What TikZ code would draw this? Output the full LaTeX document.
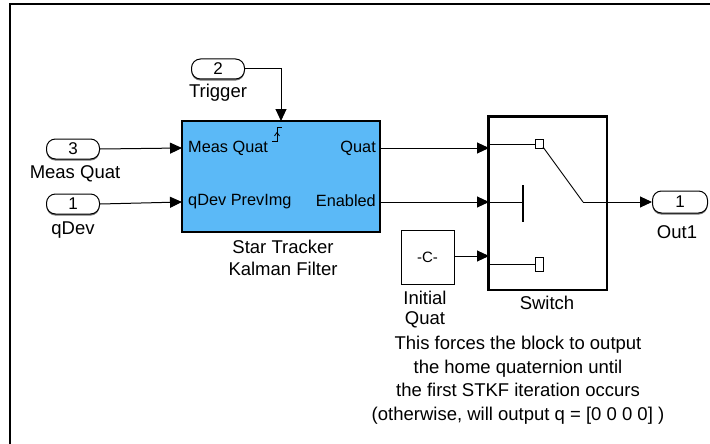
\documentclass[tikz,border=0pt]{standalone}
\usepackage{fontspec}
\setmainfont{Liberation Sans}
\usetikzlibrary{arrows.meta,shadows}
\definecolor{stkfblue}{HTML}{5BB9F7}
\tikzset{wiretip/.tip={Triangle[length=12pt,width=11pt]}}
\begin{document}
\begin{tikzpicture}[x=1pt,y=-1pt,
  lbl/.style={font=\fontsize{18.5}{22}\selectfont, inner sep=0pt},
  portlbl/.style={font=\fontsize{16.3}{19}\selectfont, inner sep=0pt},
  pill/.style={draw, fill=white, line width=1pt, rounded corners=9pt, minimum width=53pt, minimum height=20pt, inner sep=0pt, font=\fontsize{17}{20}\selectfont,
    drop shadow={shadow xshift=0pt, shadow yshift=-1.6pt, fill=black!55, opacity=1}},
  blk/.style={draw, line width=1.3pt, inner sep=0pt},
  wire/.style={line width=1pt, -wiretip},
  plainline/.style={line width=1pt}]
\useasboundingbox (0,0) rectangle (710,444);
% frame (top and left edges only)
\draw[line width=2pt] (10,444) -- (10,4.5) -- (710,4.5);

% inports
\node[pill] (inTrig) at (218,69) {2};
\node[lbl] (lTrig) at (218,93) {Trigger};
\node[pill] (inMeas) at (73,149) {3};
\node[lbl] (lMeas) at (75,174) {Meas Quat};
\node[pill] (inQdev) at (73,204) {1};
\node[lbl] (lQdev) at (73,230) {qDev};

% Star tracker block
\node[blk, fill=stkfblue, minimum width=198pt, minimum height=111pt] (stkf) at (281,176.5) {};
\node[portlbl, anchor=west] (pMeas) at (188,148) {Meas Quat};
\node[portlbl, anchor=west] (pQdev) at (188,202) {qDev PrevImg};
\node[portlbl, anchor=east] (pQuat) at (376,148) {Quat};
\node[portlbl, anchor=east] (pEn) at (376,201) {Enabled};
\node[lbl] (lStkf1) at (283,247) {Star Tracker};
\node[lbl] (lStkf2) at (283,269) {Kalman Filter};
% trigger symbol
\draw[line width=1pt] (272,141.5) -- (277,141.5) -- (277,127) -- (282,127);
\draw[line width=0.8pt] (274.5,136) -- (277,132.5) -- (279.5,136);

% Constant block
\node[blk, line width=1pt, minimum width=53pt, minimum height=54pt, font=\fontsize{15}{18}\selectfont] (const) at (427.5,257) {-C-};
\node[lbl] (lInit1) at (425,298) {Initial};
\node[lbl] (lInit2) at (425,320) {Quat};

% Switch block
\node[blk, line width=1.6pt, minimum width=118pt, minimum height=173pt] (sw) at (548,203.5) {};
\draw[line width=3pt] (sw.south west) -- (sw.north west) -- (sw.north east);
\node[lbl] (lSw) at (547,303) {Switch};
% switch internals
\coordinate (swIn1) at (489,144);
\coordinate (swIn2) at (489,202);
\coordinate (swIn3) at (489,264);
\coordinate (swPivot) at (583,202);
\draw[plainline] (swIn1) -- (535,144);
\draw[line width=0.9pt] (535,139.5) rectangle (543,148.5);
\draw[line width=0.9pt] (543,147) -- (swPivot);
\draw[plainline] (swIn2) -- (523,202);
\draw[line width=1.2pt] (523,185) -- (523,222);
\draw[plainline] (swIn3) -- (535,264);
\draw[line width=0.9pt] (535,257) rectangle (543,271);

% outport
\node[pill, minimum width=55pt, minimum height=22pt] (out1) at (680,202) {1};
\node[lbl] (lOut) at (677,232) {Out1};

% connector end points on block edges
\coordinate (stkfTrig) at (281,121);
\coordinate (stkfInA) at (182,148);
\coordinate (stkfInB) at (182,202);
\coordinate (stkfOutA) at (380,148);
\coordinate (stkfOutB) at (380,202);
\coordinate (swPortA) at (489,148);
\coordinate (swPortB) at (489,202);
\coordinate (swPortC) at (489,256);

% connectors
\draw[wire] (inTrig.east) -| (stkfTrig);
\draw[wire] (inMeas.east) -- (stkfInA);
\draw[wire] (inQdev.east) -- (stkfInB);
\draw[wire] (stkfOutA) -- (swPortA);
\draw[wire] (stkfOutB) -- (swPortB);
\draw[wire] (const.east |- swPortC) -- (swPortC);
\draw[wire] (swPivot) -- (out1.west);

% comment
\node[inner sep=0pt, align=center, font=\fontsize{18.5}{23.5}\selectfont] (note) at (518,380)
  {This forces the block to output\\the home quaternion until\\the first STKF iteration occurs\\(otherwise, will output q = [0 0 0 0] )};
\end{tikzpicture}
\end{document}
